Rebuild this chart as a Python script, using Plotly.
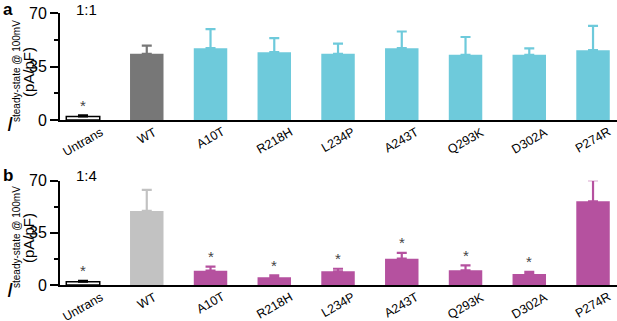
import plotly.graph_objects as go

categories = ["Untrans", "WT", "A10T", "R218H", "L234P", "A243T", "Q293K", "D302A", "P274R"]

# Panel a (1:1)
mean_a = [2.3, 43.3, 47.0, 44.4, 43.3, 47.0, 42.7, 42.7, 45.7]
err_a = [0.7, 5.3, 12.5, 9.2, 6.6, 10.9, 11.6, 4.2, 15.9]
stars_a = ["Untrans"]

# Panel b (1:4)
mean_b = [2.2, 49.7, 9.6, 5.2, 9.2, 17.7, 9.9, 7.4, 56.2]
err_b = [0.6, 14.1, 2.7, 1.3, 1.7, 3.8, 3.3, 1.5, 14.1]
stars_b = ["Untrans", "A10T", "R218H", "L234P", "A243T", "Q293K", "D302A"]

y_ticks = [0, 35, 70]
panel_letters = ["a", "b"]
ratios = ["1:1", "1:4"]

CYAN = "#6ECADB"
MAGENTA = "#B5519F"
GREY_A = "#777777"
GREY_B = "#C2C2C2"
FONT = "Liberation Sans, Arial"

W, H = 617, 321
ML, MR, MT, MB = 60, 0, 13, 36
PH = H - MT - MB
BOTTOM = H - MB


def py(pix):
    return (BOTTOM - pix) / PH


fig = go.Figure()

panels = [
    dict(mean=mean_a, err=err_a, stars=stars_a, wt=GREY_A, mut=CYAN, ax="y", xa="x", off=0),
    dict(mean=mean_b, err=err_b, stars=stars_b, wt=GREY_B, mut=MAGENTA, ax="y2", xa="x2", off=166),
]

for p in panels:
    m, e = p["mean"], p["err"]
    groups = [
        ([0], "white", "black", 1.5, "black"),
        ([1], p["wt"], p["wt"], 0, p["wt"]),
        (list(range(2, 9)), p["mut"], p["mut"], 0, p["mut"]),
    ]
    for idx, fill, lc, lw, ec in groups:
        fig.add_trace(go.Bar(
            x=[categories[i] for i in idx],
            y=[m[i] for i in idx],
            width=0.525,
            marker=dict(color=fill, line=dict(color=lc, width=lw)),
            error_y=dict(type="data", symmetric=False,
                         array=[e[i] for i in idx],
                         arrayminus=[0] * len(idx),
                         color=ec, thickness=2.2, width=5),
            xaxis=p["xa"], yaxis=p["ax"],
            showlegend=False, hoverinfo="skip",
        ))
    for c in p["stars"]:
        i = categories.index(c)
        fig.add_annotation(x=c, y=m[i] + e[i], xref=p["xa"], yref=p["ax"],
                           text="*", showarrow=False, yanchor="middle", yshift=10,
                           font=dict(size=15, color="#444444", family=FONT))
    for c in categories:
        fig.add_annotation(x=c, y=0, xref=p["xa"], yref=p["ax"],
                           text=c, showarrow=False, textangle=-30,
                           xanchor="center", yanchor="top", yshift=-2,
                           font=dict(size=12.5, color="black", family=FONT))

for k, p in enumerate(panels):
    off = p["off"]
    fig.add_annotation(xref="paper", yref="paper", x=0, y=py(9 + off), xshift=8 - ML,
                       text="<b>%s</b>" % panel_letters[k], showarrow=False,
                       xanchor="center", yanchor="middle",
                       font=dict(size=17, color="black", family=FONT))
    fig.add_annotation(xref="paper", yref="paper", x=0, y=py(9 + off), xshift=86 - ML,
                       text=ratios[k], showarrow=False, xanchor="center", yanchor="middle",
                       font=dict(size=15, color="black", family=FONT))
    fig.add_annotation(xref="paper", yref="paper", x=0, y=py(123 + off), xshift=10 - ML,
                       text="<i>I</i>", showarrow=False, xanchor="center", yanchor="middle",
                       font=dict(size=21, color="black", family=FONT))
    fig.add_annotation(xref="paper", yref="paper", x=0, y=py(71 + off), xshift=16 - ML,
                       text="steady-state @ 100mV", showarrow=False, textangle=-90,
                       xanchor="center", yanchor="middle",
                       font=dict(size=10, color="black", family=FONT))
    fig.add_annotation(xref="paper", yref="paper", x=0, y=py(72 + off), xshift=28 - ML,
                       text="(pA/pF)", showarrow=False, textangle=-90,
                       xanchor="center", yanchor="middle",
                       font=dict(size=15, color="black", family=FONT))

xcommon = dict(type="category", categoryorder="array", categoryarray=categories,
               range=[-0.361, 8.376], showticklabels=False, ticks="",
               showline=True, linecolor="black", linewidth=2, showgrid=False,
               zeroline=False, fixedrange=True)
ycommon = dict(range=[0, 70], tickvals=y_ticks, ticks="outside", ticklen=8, tickwidth=2,
               tickcolor="black", showline=True, linecolor="black", linewidth=2,
               showgrid=False, zeroline=False, fixedrange=True,
               tickfont=dict(size=16, color="black", family=FONT),
               minor=dict(tickvals=[17.5, 52.5], ticks="outside", ticklen=4, tickwidth=2,
                          tickcolor="black", showgrid=False))

fig.update_layout(
    width=W, height=H,
    margin=dict(l=ML, r=MR, t=MT, b=MB),
    paper_bgcolor="white", plot_bgcolor="white",
    barmode="overlay",
    xaxis=dict(**xcommon, anchor="y"),
    xaxis2=dict(**xcommon, anchor="y2"),
    yaxis=dict(**ycommon, domain=[py(120), 1.0], anchor="x"),
    yaxis2=dict(**ycommon, domain=[0, py(180.7)], anchor="x2"),
    font=dict(family=FONT, color="black"),
)

fig.write_html("out.html", config={"displayModeBar": False},
               post_script="document.body.style.margin='0';")
